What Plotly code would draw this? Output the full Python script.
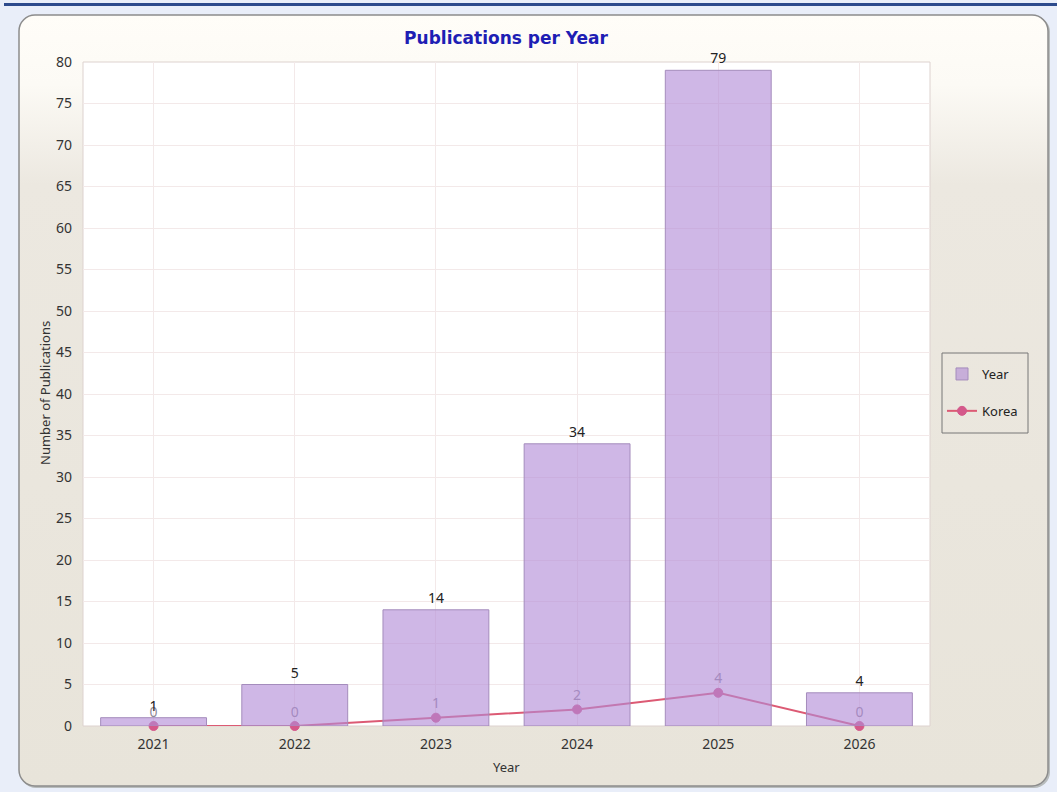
import base64
import plotly.graph_objects as go

# ---- data ----
years = ["2021", "2022", "2023", "2024", "2025", "2026"]
year_counts = [1, 5, 14, 34, 79, 4]
korea_counts = [0, 0, 1, 2, 4, 0]
y_ticks = list(range(0, 81, 5))

W, H = 1057, 792

# background panel (page + rounded gradient panel) as an SVG image
svg = f"""<svg xmlns='http://www.w3.org/2000/svg' width='{W}' height='{H}' viewBox='0 0 {W} {H}' preserveAspectRatio='none'>
<defs>
<linearGradient id='g' x1='0' y1='0' x2='0' y2='1'>
<stop offset='0' stop-color='#fffdf8'/>
<stop offset='0.09' stop-color='#fcfaf5'/>
<stop offset='0.22' stop-color='#ece8e0'/>
<stop offset='1' stop-color='#e8e4da'/>
</linearGradient>
</defs>
<rect x='0' y='0' width='{W}' height='{H}' fill='#e9eef9'/>
<rect x='4' y='3' width='{W}' height='3' fill='#2c4a8c'/>
<rect x='20' y='16' width='1030' height='772' rx='16' ry='16' fill='#b8bcbc'/>
<rect x='19' y='15' width='1029' height='771' rx='16' ry='16' fill='url(#g)' stroke='#8c8c8c' stroke-width='1.5'/>
</svg>"""
src = "data:image/svg+xml;base64," + base64.b64encode(svg.encode()).decode()

x0, x1 = 83 / W, 930 / W
y0, y1 = 1 - 726 / H, 1 - 62 / H

fig = go.Figure()

# Korea line (main axes, drawn beneath the translucent bars)
fig.add_trace(go.Scatter(
    x=years, y=korea_counts, name="Korea", mode="lines+markers",
    line=dict(color="#dc5a74", width=2),
    marker=dict(color="#d4588a", size=9, line=dict(color="#d4588a", width=1)),
    xaxis="x", yaxis="y", legendrank=2, legendgroup="k",
    cliponaxis=False,
))
# Korea value labels (invisible markers set the text offset)
fig.add_trace(go.Scatter(
    x=years, y=korea_counts, mode="text+markers", text=[str(v) for v in korea_counts],
    textposition="top center", textfont=dict(family="Noto Sans", size=14, color="#8e8a98"),
    marker=dict(size=8, color="rgba(0,0,0,0)"),
    showlegend=False, xaxis="x", yaxis="y", cliponaxis=False, hoverinfo="skip",
))

# Year bars (overlay axes so they draw above the line)
fig.add_trace(go.Bar(
    x=years, y=year_counts, name="Year",
    marker=dict(color="rgba(178,138,214,0.62)", line=dict(color="#a48cbc", width=1)),
    width=0.75, text=[str(v) for v in year_counts], textposition="outside",
    textfont=dict(family="Noto Sans", size=14, color="#222222"),
    cliponaxis=False, xaxis="x2", yaxis="y2", legendrank=1, legendgroup="y",
))

axis_font = dict(family="Noto Sans", size=14, color="#333333")

fig.update_layout(
    width=W, height=H, autosize=False,
    margin=dict(l=0, r=0, t=0, b=0, pad=0, autoexpand=False),
    paper_bgcolor="#e9eef9", plot_bgcolor="white",
    images=[dict(source=src, xref="paper", yref="paper", x=0, y=1, sizex=1, sizey=1,
                 xanchor="left", yanchor="top", sizing="stretch", layer="below")],
    shapes=[
        dict(type="rect", xref="paper", yref="paper", x0=x0, x1=x1, y0=y0, y1=y1,
             fillcolor="white", line=dict(color="#ddd2cf", width=1), layer="below"),
        # legend frame
        dict(type="rect", xref="paper", yref="paper", x0=942 / W, x1=1028 / W,
             y0=1 - 433 / H, y1=1 - 353 / H, fillcolor="rgba(0,0,0,0)",
             line=dict(color="#777777", width=1), layer="below"),
    ],
    title=dict(text="<b>Publications per Year</b>", x=506 / W, y=1 - 38 / H,
               xanchor="center", yanchor="middle", xref="paper", yref="paper",
               font=dict(family="DejaVu Sans", size=17, color="#1e1eb4")),
    xaxis=dict(domain=[x0, x1], type="category", categoryorder="array", categoryarray=years,
               range=[-0.5, 5.5], showgrid=True, gridcolor="#f3e9e9", gridwidth=1,
               showline=False, zeroline=False, tickfont=axis_font, ticks="",
               ticklabelstandoff=8, fixedrange=True, automargin=False),
    yaxis=dict(domain=[y0, y1], range=[0, 80], tickvals=y_ticks, showgrid=True,
               gridcolor="#f3e9e9", gridwidth=1, zeroline=False, showline=False,
               tickfont=axis_font, ticks="", ticklabelstandoff=10, fixedrange=True,
               automargin=False),
    xaxis2=dict(overlaying="x", type="category", categoryorder="array", categoryarray=years,
                range=[-0.5, 5.5], visible=False, matches="x", automargin=False),
    yaxis2=dict(overlaying="y", range=[0, 80], visible=False, matches="y", automargin=False),
    legend=dict(x=942 / W, y=1 - 359 / H, xanchor="left", yanchor="top",
                borderwidth=0, bgcolor="rgba(0,0,0,0)",
                font=dict(family="Noto Sans", size=13, color="#222222"),
                traceorder="grouped", tracegroupgap=17, itemwidth=30),
    annotations=[
        dict(text="Year", x=506 / W, y=1 - 767 / H, xref="paper", yref="paper",
             xanchor="center", yanchor="middle",
             showarrow=False, font=dict(family="Noto Sans", size=13, color="#333333")),
        dict(text="Number of Publications", x=45 / W, y=1 - 393 / H, xref="paper", yref="paper",
             xanchor="center", yanchor="middle",
             showarrow=False, textangle=-90,
             font=dict(family="Noto Sans", size=13, color="#333333")),
    ],
    bargap=0.25, showlegend=True,
)

fig.write_html("out.html")
